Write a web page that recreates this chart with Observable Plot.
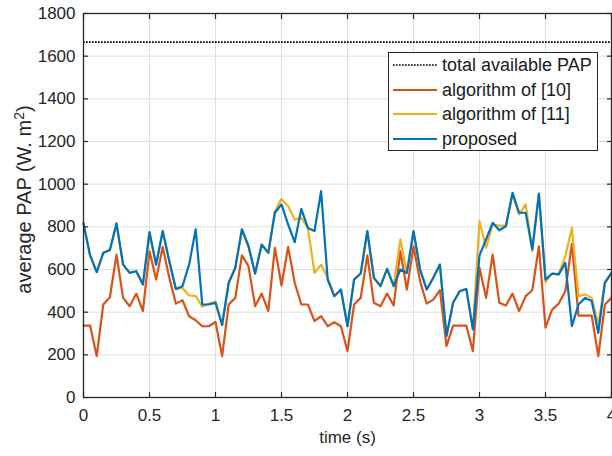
<!DOCTYPE html>
<html>
<head>
<meta charset="utf-8">
<script src="https://cdn.jsdelivr.net/npm/d3@7"></script>
<script src="https://cdn.jsdelivr.net/npm/@observablehq/plot@0.6"></script>
<style>
  body { margin: 0; background: #fff; }
  #wrap { position: relative; width: 612px; height: 456px; font-family: "Liberation Sans", Arial, sans-serif; color: #262626; }
  #legend { position: absolute; left: 388px; top: 52px; width: 210px; height: 99px; border: 1px solid #262626; background: #fff; box-sizing: border-box; }
  .row { position: absolute; left: 4px; height: 20px; display: flex; align-items: center; font-size: 18px; white-space: nowrap; color: #1a1a1a; }
  .row svg { margin-right: 5px; }
</style>
</head>
<body>
<div id="wrap"></div>
<script>
const time = d3.range(81).map(i => +(i * 0.05).toFixed(2));
const totalPAP = 1666;
const alg10 = [337,337,194,436,470,670,467,428,487,405,686,553,706,561,440,456,381,362,334,334,354,
  194,436,467,666,616,428,487,405,702,525,706,538,436,436,358,381,334,353,334,217,
  436,467,666,444,428,487,431,686,506,709,545,440,459,503,241,337,337,337,217,608,
  467,670,444,431,487,405,475,503,709,327,412,440,498,720,384,384,384,194,436,467];
const proposed = [816,666,588,678,691,816,623,584,592,530,775,623,780,639,509,522,623,788,436,436,444,
  340,538,608,788,709,581,717,678,866,905,811,728,884,795,780,967,553,475,506,334,
  553,581,780,561,522,603,522,600,584,780,600,506,561,623,288,444,498,509,319,666,
  741,819,784,803,959,866,866,694,956,553,581,577,631,334,436,467,452,303,538,584];
const alg11 = [816,666,588,678,691,816,623,584,592,530,775,623,780,639,509,514,478,475,425,440,450,
  340,538,608,788,709,581,717,678,873,931,897,834,842,795,584,623,561,475,506,334,
  553,581,780,561,522,603,522,741,584,780,600,506,561,623,288,444,498,509,319,827,
  702,811,806,806,952,858,905,686,952,541,581,577,663,795,475,483,467,342,538,584];
const xTicks = [0, 0.5, 1, 1.5, 2, 2.5, 3, 3.5, 4];
const yTicks = [0, 200, 400, 600, 800, 1000, 1200, 1400, 1600, 1800];
const names = ["total available PAP", "algorithm of [10]", "algorithm of [11]", "proposed"];
const colors = ["#000000", "#D95319", "#EDB120", "#0072BD"];

const rows = (vals) => time.map((t, i) => ({t, v: vals[i]}));
const fmt = d => String(d);
const axisColor = "#262626";
const dots = "1.7,1.3";

const chart = Plot.plot({
  width: 612, height: 456,
  marginLeft: 83, marginRight: 1, marginTop: 13, marginBottom: 59,
  style: {fontFamily: "Liberation Sans, Arial, sans-serif", fontSize: "17px", color: axisColor, background: "#fff"},
  x: {domain: [0, 4]},
  y: {domain: [0, 1800]},
  marks: [
    Plot.gridX(xTicks, {stroke: "#dfdfdf", strokeOpacity: 1}),
    Plot.gridY(yTicks, {stroke: "#dfdfdf", strokeOpacity: 1}),
    Plot.ruleY([totalPAP], {stroke: colors[0], strokeWidth: 1.6, strokeDasharray: dots}),
    Plot.line(rows(alg10), {x: "t", y: "v", stroke: colors[1], strokeWidth: 2.2}),
    Plot.line(rows(alg11), {x: "t", y: "v", stroke: colors[2], strokeWidth: 2.2}),
    Plot.line(rows(proposed), {x: "t", y: "v", stroke: colors[3], strokeWidth: 2.2}),
    Plot.frame({stroke: axisColor, strokeWidth: 1.3}),
    Plot.axisX(xTicks, {tickSize: 0, tickPadding: 11, tickFormat: fmt, fill: axisColor,
      label: "time (s)", labelAnchor: "center", labelArrow: "none", labelOffset: 45}),
    Plot.axisY(yTicks, {tickSize: 0, tickPadding: 8, tickFormat: fmt, fill: axisColor,
      label: "average PAP (W. m2)", labelAnchor: "center", labelArrow: "none", labelOffset: 67}),
    Plot.axisX(xTicks, {anchor: "bottom", tickSize: -5, text: null, label: null, stroke: axisColor, strokeWidth: 1.2}),
    Plot.axisX(xTicks, {anchor: "top", tickSize: -5, text: null, label: null, stroke: axisColor, strokeWidth: 1.2}),
    Plot.axisY(yTicks, {anchor: "left", tickSize: -5, text: null, label: null, stroke: axisColor, strokeWidth: 1.2}),
    Plot.axisY(yTicks, {anchor: "right", tickSize: -5, text: null, label: null, stroke: axisColor, strokeWidth: 1.2})
  ]
});

const wrap = document.getElementById("wrap");
wrap.appendChild(chart);

// y label: larger font, superscript 2, nudged up a little
const ylab = chart.querySelector('g[aria-label="y-axis label"] text');
if (ylab) {
  ylab.textContent = "";
  ylab.setAttribute("font-size", "20px");
  ylab.style.fontSize = "20px";
  const tr = ylab.getAttribute("transform") || "";
  ylab.setAttribute("transform", tr + " translate(6,0)");
  const ns = "http://www.w3.org/2000/svg";
  const t1 = document.createElementNS(ns, "tspan"); t1.textContent = "average PAP (W. m";
  const t2 = document.createElementNS(ns, "tspan"); t2.textContent = "2"; t2.setAttribute("dy", "-0.5em"); t2.setAttribute("font-size", "14px");
  const t3 = document.createElementNS(ns, "tspan"); t3.textContent = ")"; t3.setAttribute("dy", "0.36em");
  ylab.append(t1, t2, t3);
}

const legend = document.createElement("div");
legend.id = "legend";
const rowTops = [2, 27, 51, 76];
names.forEach((name, i) => {
  const r = document.createElement("div");
  r.className = "row";
  r.style.top = rowTops[i] + "px";
  const dash = i === 0 ? `stroke-dasharray="${dots}" stroke-width="1.6"` : 'stroke-width="2.2"';
  r.innerHTML = `<svg width="44" height="10"><line x1="0" y1="5" x2="44" y2="5" stroke="${colors[i]}" ${dash}/></svg><span>${name}</span>`;
  legend.appendChild(r);
});
wrap.appendChild(legend);
</script>
</body>
</html>
